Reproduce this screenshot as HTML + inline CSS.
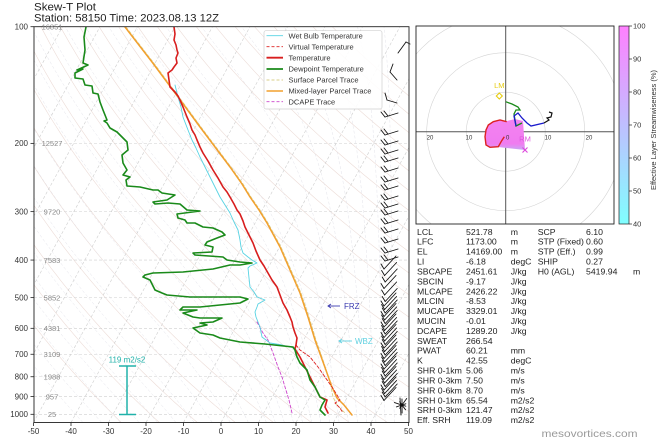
<!DOCTYPE html>
<html><head><meta charset="utf-8">
<style>
html,body{margin:0;padding:0;background:#fff;}
svg{display:block;font-family:"Liberation Sans","DejaVu Sans",sans-serif;}
</style></head>
<body>
<svg id="s" width="660" height="440" viewBox="0 0 660 440" xmlns="http://www.w3.org/2000/svg">
<defs>
<clipPath id="cp"><rect x="34" y="26.7" width="375" height="395.8"/></clipPath>
<clipPath id="ch"><rect x="416" y="26" width="198" height="198"/></clipPath>
<linearGradient id="cb" x1="0" y1="1" x2="0" y2="0">
<stop offset="0" stop-color="#80ffff"/><stop offset="0.5" stop-color="#bfbfff"/><stop offset="1" stop-color="#ff80ff"/>
</linearGradient>
<linearGradient id="pk" x1="0" y1="0" x2="0" y2="1">
<stop offset="0" stop-color="#f482f0"/><stop offset="0.8" stop-color="#f07cf0"/><stop offset="1" stop-color="#c8a8f4"/>
</linearGradient>
</defs>
<rect width="660" height="440" fill="#fff"/>

<text x="34" y="10.5" font-size="11" fill="#222" textLength="62" lengthAdjust="spacingAndGlyphs">Skew-T Plot</text>
<text x="34" y="21.5" font-size="11" fill="#222" textLength="185" lengthAdjust="spacingAndGlyphs">Station: 58150 Time: 2023.08.13 12Z</text>

<g id="bg" clip-path="url(#cp)"></g>

<g id="data" clip-path="url(#cp)" fill="none" stroke-linejoin="round" stroke-linecap="round">
<polyline stroke="#cc44cc" stroke-width="0.9" stroke-dasharray="3,2" points="257,322 263,333 268,340 273,353 278,367 282,377 285,387 289,400 292,413"/>
<polyline stroke="#d9cf8a" stroke-width="0.9" stroke-dasharray="3,2" points="126,27 153,62 179,97 201,127 216,147 231,167 243,184 251,197 260,210 268,223 281,247 291,270 301,293 309,317 316,340 323,360 330,382 333,397 337,405 345,413"/>
<polyline stroke="#f2a02e" stroke-width="1.5" points="125,27 152,62 178,97 200,127 215,147 230,167 242,184 250,197 259,210 267,223 280,247 290,270 300,293 308,317 315,340 323,362 332,387 337,398 344,405 352,415"/>
<polyline stroke="#57d3e3" stroke-width="0.9" points="175,85 178,97 181,107 183,117 188,130 192,140 196,148 200,157 205,167 210,177 215,187 220,197 225,205 230,213 234,222 238,230 240,240 241,247 243,253 248,257 252,260 257,263 250,266 248,268 249,278 250,287 254,292 257,297 265,300 258,304 257,307 255,312 256,317 258,322 260,327 261,332 262,337 266,340 270,343 282,345 294,348 297,357 300,363 307,370 310,380 315,387 320,397 325,400 322,405 320,410 325,415"/>
<polyline stroke="#dd2222" stroke-width="0.9" stroke-dasharray="3,2" points="296,345 300,350 310,357 318,367 325,377 332,387 337,395 340,400 335,403 340,408 343,413"/>
<polyline stroke="#d81e1e" stroke-width="1.6" points="174,27 175,34 174,40 176,45 177,50 178,53 176,58 177,63 174,67 172,70 168,73 169,80 170,87 175,92 178,96 180,100 183,107 185,112 187,117 190,124 192,130 195,135 197,140 200,147 203,153 208,161 213,170 218,178 223,187 227,192 230,197 234,204 237,210 240,214 243,221 245,227 249,235 253,243 256,251 260,260 264,266 268,273 272,280 277,287 280,295 283,303 287,310 290,317 292,322 293,327 295,333 297,338 296,345 295,349 300,357 305,367 310,377 315,387 320,397 327,400 325,407 328,413"/>
<polyline stroke="#1a8a1a" stroke-width="1.6" points="86,27 84,37 85,50 83,63 88,65 77,70 83,69 75,73 75,78 83,79 85,85 92,86 93,93 98,94 100,102 103,110 107,120 104,121 107,123 110,128 117,132 120,135 123,138 127,142 128,150 122,155 123,163 127,170 123,175 130,177 126,180 127,186 140,187 153,190 158,190 162,193 175,195 167,200 153,202 155,204 168,203 180,204 187,210 200,211 177,214 178,218 185,220 187,223 195,223 203,227 213,228 222,232 225,235 217,238 207,242 205,245 213,247 212,252 193,253 195,255 223,257 227,260 240,262 252,263 240,265 230,265 213,269 183,272 153,273 145,275 143,277 150,280 155,290 162,293 167,295 190,297 240,297 248,299 240,303 220,305 200,307 183,307 180,310 197,310 183,313 193,317 200,318 222,318 213,322 200,323 207,325 193,328 200,333 213,335 220,338 240,342 265,344 293,347 295,350 297,357 300,363 307,370 310,380 315,387 320,397 325,400 322,405 320,410 325,415"/>
</g>

<g font-size="8">
<line x1="328" y1="306" x2="340" y2="306" stroke="#3b3bb0" stroke-width="0.9"/>
<polyline points="331,304 328,306 331,308" fill="none" stroke="#3b3bb0" stroke-width="0.9"/>
<text x="344" y="309" fill="#3b3bb0">FRZ</text>
<line x1="339" y1="341" x2="352" y2="341" stroke="#5fd0e0" stroke-width="0.9"/>
<polyline points="342,339 339,341 342,343" fill="none" stroke="#5fd0e0" stroke-width="0.9"/>
<text x="355" y="344" fill="#5fd0e0">WBZ</text>
</g>

<g stroke="#20b2aa" stroke-width="1.5">
<line x1="127" y1="366" x2="127" y2="414.5"/>
<line x1="119" y1="366" x2="136" y2="366"/>
<line x1="119" y1="414.5" x2="136" y2="414.5"/>
</g>
<text x="127" y="362.5" font-size="8" fill="#20b2aa" text-anchor="middle">119 m2/s2</text>

<rect x="264" y="30.7" width="118" height="78.3" rx="2" fill="#fff" fill-opacity="0.88" stroke="#d0d0d0" stroke-width="0.7"/>
<g stroke-width="1.2">
<line x1="266.5" y1="35.7" x2="283" y2="35.7" stroke="#57d3e3" stroke-width="0.9"/>
<line x1="266.5" y1="46.7" x2="283" y2="46.7" stroke="#dd2222" stroke-width="0.9" stroke-dasharray="3,2"/>
<line x1="266.5" y1="57.7" x2="283" y2="57.7" stroke="#d81e1e" stroke-width="1.8"/>
<line x1="266.5" y1="69" x2="283" y2="69" stroke="#1a8a1a" stroke-width="1.8"/>
<line x1="266.5" y1="80" x2="283" y2="80" stroke="#d9cf8a" stroke-width="0.9" stroke-dasharray="3,2"/>
<line x1="266.5" y1="91" x2="283" y2="91" stroke="#f2a02e" stroke-width="1.6"/>
<line x1="266.5" y1="101.7" x2="283" y2="101.7" stroke="#cc44cc" stroke-width="0.9" stroke-dasharray="3,2"/>
</g>
<g font-size="7.5" fill="#333">
<text x="288.5" y="38.4">Wet Bulb Temperature</text>
<text x="288.5" y="49.4">Virtual Temperature</text>
<text x="288.5" y="60.4">Temperature</text>
<text x="288.5" y="71.7">Dewpoint Temperature</text>
<text x="288.5" y="82.7">Surface Parcel Trace</text>
<text x="288.5" y="93.7">Mixed-layer Parcel Trace</text>
<text x="288.5" y="104.4">DCAPE Trace</text>
</g>

<g id="barbs" stroke="#111" stroke-width="0.9" fill="none" stroke-linecap="round"></g>

<rect x="34" y="26.7" width="375" height="395.8" fill="none" stroke="#222" stroke-width="0.9"/>
<g id="axl" font-size="8" fill="#333"></g>

<g clip-path="url(#ch)">
<g fill="none" stroke="#d4d4d4" stroke-width="0.6">
<circle cx="505.7" cy="131.7" r="39.5"/>
<circle cx="505.7" cy="131.7" r="79"/>
<circle cx="505.7" cy="131.7" r="118.5"/>
</g>
<line x1="505.7" y1="26" x2="505.7" y2="224" stroke="#555" stroke-width="1"/>
<line x1="416" y1="131.7" x2="614" y2="131.7" stroke="#555" stroke-width="1"/>
<polygon points="525,150 523,121 515,119 507,121 500,120 493,121.7 488,125 486,130 485,136.7 486,145 490,147.3 498,147" fill="url(#pk)" stroke="none"/>
<polyline points="506.7,121.7 500,120 493.3,121.7 488.3,125 486,130 485,136.7 486,145 490,147.3 498.3,146.7 501.7,140.7 504.3,136.7" fill="none" stroke="#dd2222" stroke-width="1.4"/>
<polyline points="505.7,101.7 512,104 518,107 520,110 516,110 514,114 516,126 522,123" fill="none" stroke="#1a8a1a" stroke-width="1.3"/>
<polyline points="516,126 514,116 518,113 522,118 527,123 531,126 544,123" fill="none" stroke="#1a1acc" stroke-width="1.3"/>
<polyline points="544,123 549,120 547,118 551,117 552,113 549,112" fill="none" stroke="#111" stroke-width="1.2"/>
<g font-size="6" fill="#333" text-anchor="middle">
<text x="430" y="139.5">20</text><text x="469" y="139.5">10</text><text x="507.7" y="139.5">0</text><text x="548" y="139.5">10</text><text x="589" y="139.5">20</text>
</g>
<path d="M522.5,147.5 L527.5,152.5 M527.5,147.5 L522.5,152.5" stroke="#dd44dd" stroke-width="1.1"/>
<text x="525" y="141.5" font-size="7.5" fill="#dd55dd" text-anchor="middle">RM</text>
<polygon points="499.3,93 502.3,96 499.3,99 496.3,96" fill="none" stroke="#e6cc10" stroke-width="1.1"/>
<text x="499.3" y="88" font-size="7.5" fill="#e6cc10" text-anchor="middle">LM</text>
</g>
<rect x="416" y="26" width="198" height="198" fill="none" stroke="#222" stroke-width="0.9"/>

<rect x="619" y="26" width="10" height="198" fill="url(#cb)" stroke="#222" stroke-width="0.7"/>
<g id="cbt" font-size="7.5" fill="#333"></g>
<text transform="translate(656,130) rotate(-90)" font-size="7.5" fill="#333" text-anchor="middle" textLength="120" lengthAdjust="spacingAndGlyphs">Effective Layer Streamwiseness (%)</text>

<g id="tbl" font-size="8.7" fill="#222"></g>

<text x="541.5" y="437" font-size="10" fill="#999" textLength="96" lengthAdjust="spacingAndGlyphs">mesovortices.com</text>
</svg>
<script>
(function(){
var NS="http://www.w3.org/2000/svg";
function el(tag,attrs,parent,txt){var e=document.createElementNS(NS,tag);for(var k in attrs)e.setAttribute(k,attrs[k]);if(txt!==undefined)e.textContent=txt;parent.appendChild(e);return e;}
var L=33.5,T0=26.7,K=387.6,YB=422.5,H=YB-T0;
function py(p){return T0+K*(Math.log10(p)-2);}
function tx(t,p){var y=py(p);return L+3.75*(t+50)+216.5*(YB-y)/H;}
var bg=document.getElementById('bg');
for(var th=-30;th<=200;th+=10){var pts=[];for(var p=1050;p>=100;p-=10){var T=(th+273.15)*Math.pow(p/1000,0.2857)-273.15;pts.push(tx(T,p).toFixed(1)+","+py(p).toFixed(1));}
el('polyline',{points:pts.join(' '),fill:'none',stroke:'#ecdcd7','stroke-width':'0.6'},bg);}
function dTdp(p,T){var Rd=287.04,Cp=1005.7,Lv=2.501e6,eps=0.622;var es=6.112*Math.exp(17.67*(T-273.15)/(T-29.65));var rs=eps*es/(p-es);var num=(Rd*T+Lv*rs)/p;var den=Cp+(Lv*Lv*rs*eps)/(Rd*T*T);return num/den;}
var m0=[];for(var a=-40;a<=10;a+=5)m0.push(a);for(var b=12.5;b<=45;b+=2.5)m0.push(b);
m0.forEach(function(t0){var T=t0+273.15,p=1000,pts=[];
 var Tq=T;for(var q=1000;q<1050;q+=5){var k1=dTdp(q,Tq);var k2=dTdp(q+5,Tq+5*k1);Tq+=2.5*(k1+k2);}
 pts.push(tx(Tq-273.15,1050).toFixed(1)+","+py(1050).toFixed(1));
 pts.push(tx(T-273.15,1000).toFixed(1)+","+py(1000).toFixed(1));
 for(p=1000;p>100;p-=5){var k1=dTdp(p,T);var k2=dTdp(p-5,T-5*k1);T-=2.5*(k1+k2);pts.push(tx(T-273.15,p-5).toFixed(1)+","+py(p-5).toFixed(1));}
 el('polyline',{points:pts.join(' '),fill:'none',stroke:'#e3e3ea','stroke-width':'0.5','stroke-dasharray':'3,2'},bg);});
for(var t=-160;t<=50;t+=10){el('line',{x1:tx(t,1050),y1:py(1050),x2:tx(t,100),y2:py(100),stroke:'#cdcdcd','stroke-width':'0.6','stroke-dasharray':'3,2'},bg);}
var P=[100,200,300,400,500,600,700,800,900,1000];
P.forEach(function(p){el('line',{x1:34,y1:py(p),x2:409,y2:py(p),stroke:'#cfcfcf','stroke-width':'0.6','stroke-dasharray':'3,2'},bg);});
var ax=document.getElementById('axl');
var hts=["16851","12527","9720","7583","5852","4381","3109","1988","957","25"];
P.forEach(function(p,i){var y=py(p);el('text',{x:28,y:(y+2.8).toFixed(1),'text-anchor':'end'},ax,String(p));
 el('line',{x1:30.5,y1:y,x2:34,y2:y,stroke:'#222','stroke-width':'0.8'},ax);
 el('text',{x:52,y:(y+2.7).toFixed(1),'text-anchor':'middle',fill:'#8a8a8a','font-size':'7.5'},ax,hts[i]);});
for(var v=-50;v<=50;v+=10){var x=L+3.75*(v+50);el('line',{x1:x,y1:YB,x2:x,y2:YB+3.5,stroke:'#222','stroke-width':'0.8'},ax);
 el('text',{x:x,y:433.8,'text-anchor':'middle'},ax,String(v));}
var cbt=document.getElementById('cbt');
for(var c=40;c<=100;c+=10){var y=224-(c-40)*3.3;el('line',{x1:629,y1:y,x2:632,y2:y,stroke:'#222','stroke-width':'0.7'},cbt);el('text',{x:633,y:(y+2.7).toFixed(1)},cbt,String(c));}
var tb=document.getElementById('tbl');
var rows=[["LCL","521.78","m"],["LFC","1173.00","m"],["EL","14169.00","m"],["LI","-6.18","degC"],["SBCAPE","2451.61","J/kg"],["SBCIN","-9.17","J/kg"],["MLCAPE","2426.22","J/kg"],["MLCIN","-8.53","J/kg"],["MUCAPE","3329.01","J/kg"],["MUCIN","-0.01","J/kg"],["DCAPE","1289.20","J/kg"],["SWEAT","266.54",""],["PWAT","60.21","mm"],["K","42.55","degC"],["SHR 0-1km","5.06","m/s"],["SHR 0-3km","7.50","m/s"],["SHR 0-6km","8.70","m/s"],["SRH 0-1km","65.54","m2/s2"],["SRH 0-3km","121.47","m2/s2"],["Eff. SRH","119.09","m2/s2"]];
var r2=[["SCP","6.10",""],["STP (Fixed)","0.60",""],["STP (Eff.)","0.99",""],["SHIP","0.27",""],["H0 (AGL)","5419.94","m"]];
rows.forEach(function(r,i){var y=(234.8+i*9.91).toFixed(1);el('text',{x:417,y:y},tb,r[0]);el('text',{x:466,y:y},tb,r[1]);if(r[2])el('text',{x:510.7,y:y},tb,r[2]);});
r2.forEach(function(r,i){var y=(234.8+i*9.91).toFixed(1);el('text',{x:537.7,y:y},tb,r[0]);el('text',{x:586,y:y},tb,r[1]);if(r[2])el('text',{x:633,y:y},tb,r[2]);});
var bb=document.getElementById('barbs');
function ln(a,b,c,d){el('line',{x1:a,y1:b,x2:c,y2:d},bb);}
ln(398,53,406,42);ln(406,42,410,44);
ln(397,80,390,72);ln(390,72,393,64);
ln(397,103,387,100);ln(387,100,385,93);
var A=[115,133,143,152,160,170,180,188,198,206,213,222,231,241,251,259];
A.forEach(function(y){ln(398,y-2,385,y+2);ln(385,y+2,381,y-3);ln(388,y+1,384,y-4);});
var B=[];for(var y=266;y<=300;y+=6.5)B.push(y);for(y=303;y<=398;y+=3.5)B.push(y);
B.forEach(function(y,i){var o=(i%3)*0.6;ln(396+o,y-10,384+o,y+3);ln(384+o,y+3,381+o,y-2);});
var cx=402,cy=405;for(var k=0;k<10;k++){var ang=k*0.63+0.3;var r=4+(k%3)*2;ln(cx,cy,cx+r*Math.cos(ang),cy+r*Math.sin(ang));}
ln(400,398,401,415);
})();
</script>
</body></html>
